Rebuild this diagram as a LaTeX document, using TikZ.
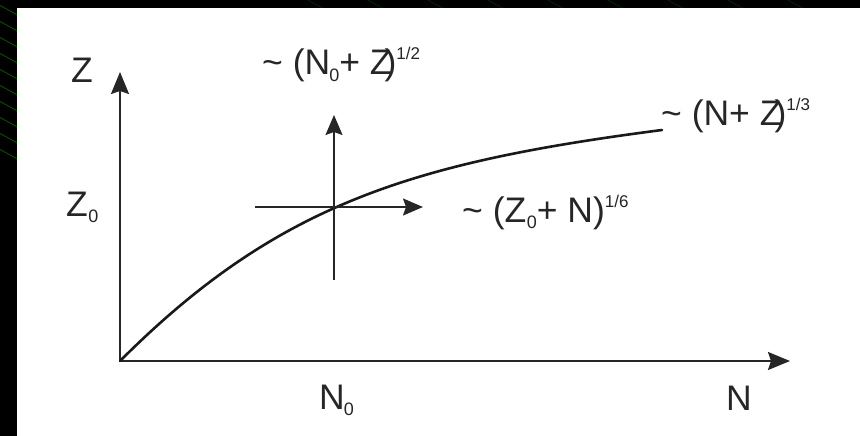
\documentclass[tikz,border=0pt]{standalone}
\usepackage{fontspec}
\setmainfont{Liberation Sans}
\usetikzlibrary{arrows.meta}
\newcommand{\mysub}[1]{\raisebox{-6pt}{\fontsize{18}{18}\selectfont #1}}
\newcommand{\mysup}[1]{\raisebox{15pt}{\fontsize{17}{17}\selectfont #1}}
\tikzset{
  lab/.style={anchor=base west, inner sep=0pt, font=\fontsize{35.5}{36}\selectfont, text=black!85},
  axisline/.style={draw=black!85, line width=2pt, -{Stealth[length=22pt,width=18pt,inset=3pt]}},
  crossline/.style={draw=black!85, line width=1.5pt},
  crossarrow/.style={crossline, -{Stealth[length=20pt,width=17pt,inset=3pt]}},
  curveline/.style={draw=black!90, line width=2.6pt},
  streak/.style={draw=green!45!black, line width=0.8pt, opacity=0.8}
}
\begin{document}
\begin{tikzpicture}[x=1pt, y=-1pt]
\useasboundingbox (0,0) rectangle (860,436);
\fill[black] (0,0) rectangle (860,436);
\begin{scope}
  \clip (0,0) rectangle (17,436);
  \foreach \k in {0,16,...,150} {
    \draw[streak] (-10,\k) -- (30,\k+22);
  }
\end{scope}
\begin{scope}
  \clip (17,0) rectangle (860,8);
  \foreach \k in {300,360,...,820} {
    \draw[draw=black!70!green, line width=0.6pt, opacity=0.6] (\k,-4) -- (\k+30,12);
  }
\end{scope}
\fill[white] (17,8) rectangle (860,436);

% axes
\coordinate (O) at (120,361);
\coordinate (Ztip) at (120,72);
\coordinate (Ntip) at (790,361);
\draw[axisline] (O) -- (Ztip);
\draw[axisline] (O) -- (Ntip);

% curve
\coordinate (P1) at (276.9,204.1);
\coordinate (P2) at (411.8,162.5);
\coordinate (E) at (662,130);
\draw[curveline, line cap=round] (O) .. controls (P1) and (P2) .. (E);

% cross
\coordinate (C) at (334,207);
\coordinate (vtop) at (334,115);
\coordinate (vbot) at (334,280);
\coordinate (hl) at (255,207);
\coordinate (hr) at (423,207);
\draw[crossline] (vbot) -- (C);
\draw[crossarrow] (C) -- (vtop);
\draw[crossline] (hl) -- (C);
\draw[crossarrow] (C) -- (hr);

% labels
\node[lab] (zl) at (71,82) {Z};
\node[lab] (z0) at (66,216) {Z\kern0.5pt\mysub{0}};
\node[lab] (n0) at (319,409) {N\kern-1pt\mysub{0}};
\node[lab] (nl) at (726,410) {N};
\node[lab] (t1) at (262,75) {\textasciitilde{} (N\kern-1pt\mysub{0}+ Z\kern-7pt)\mysup{1/2}};
\node[lab] (t2) at (462,222) {\textasciitilde{} (Z\kern0.5pt\mysub{0}+ N)\mysup{1/6}};
\node[lab] (t3) at (661,125) {\textasciitilde{} (N+ Z\kern-7pt)\mysup{1/3}};
\end{tikzpicture}
\end{document}
